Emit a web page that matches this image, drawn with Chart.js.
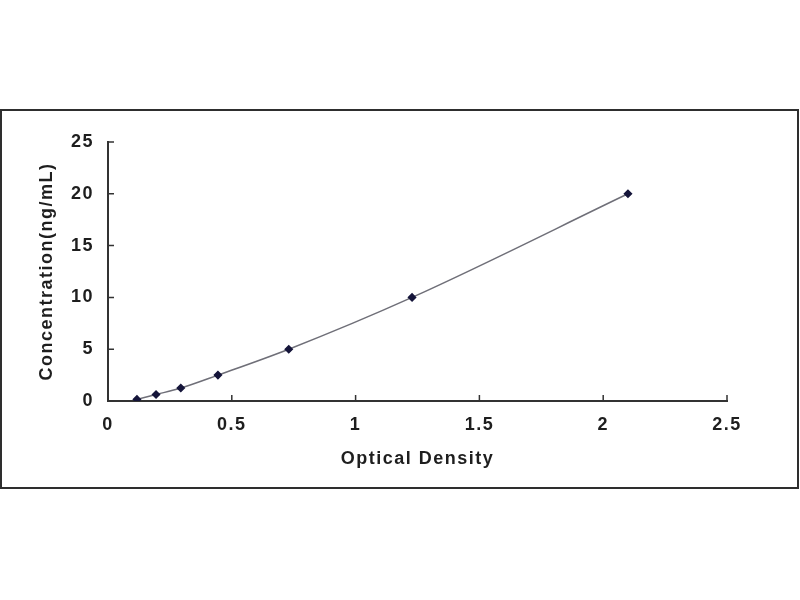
<!DOCTYPE html>
<html>
<head>
<meta charset="utf-8">
<script src="https://cdn.jsdelivr.net/npm/chart.js@4/dist/chart.umd.min.js"></script>
<style>
  html, body { margin: 0; padding: 0; background: #fff; }
  #wrap { position: relative; width: 800px; height: 600px; }
  #frame {
    position: absolute; left: 0; top: 109px;
    width: 795px; height: 376px;
    border: 2px solid #2e2e2e;
  }
  canvas { position: absolute; left: 0; top: 0; }
</style>
</head>
<body>
<div id="wrap">
  <div id="frame"></div>
  <canvas id="curve" width="800" height="600"></canvas>
</div>
<script>
// Standard curve: optical density vs concentration
const opticalDensity = [0.117, 0.194, 0.294, 0.444, 0.730, 1.228, 2.10];
const concentration = [0.156, 0.625, 1.25, 2.5, 5, 10, 20];
const xTicks = [0, 0.5, 1, 1.5, 2, 2.5];
const yTicks = [0, 5, 10, 15, 20, 25];

const textColor = '#1e1e1e';
const axisColor = '#333333';

// canvas keeps letterSpacing in its state, reset when the canvas resizes
const spacing = {
    id: 'spacing',
    beforeLayout(chart) { chart.ctx.letterSpacing = '1.5px'; },
    beforeDraw(chart) { chart.ctx.letterSpacing = '1.5px'; }
};

// small tick marks pointing into the plot
const innerTicks = {
    id: 'innerTicks',
    afterDatasetsDraw(chart) {
        const { ctx, scales: { x, y } } = chart;
        ctx.save();
        ctx.strokeStyle = axisColor;
        ctx.lineWidth = 1.5;
        ctx.beginPath();
        xTicks.forEach(v => {
            const px = x.getPixelForValue(v);
            ctx.moveTo(px, y.bottom);
            ctx.lineTo(px, y.bottom - 6);
        });
        yTicks.forEach(v => {
            const py = y.getPixelForValue(v);
            ctx.moveTo(x.left, py);
            ctx.lineTo(x.left + 6, py);
        });
        ctx.stroke();
        ctx.restore();
    }
};

const font = { family: '"Liberation Sans", Arial, sans-serif', size: 18, weight: 'bold' };

new Chart(document.getElementById('curve'), {
    type: 'scatter',
    data: {
        datasets: [{
            data: opticalDensity.map((od, i) => ({ x: od, y: concentration[i] })),
            showLine: true,
            cubicInterpolationMode: 'monotone',
            borderColor: '#6f6f78',
            borderWidth: 1.5,
            pointStyle: 'rectRot',
            pointRadius: 3.5,
            pointBackgroundColor: '#15153a',
            pointBorderColor: '#15153a'
        }]
    },
    options: {
        responsive: false,
        animation: false,
        devicePixelRatio: 1,
        layout: { padding: { left: 32, top: 142, right: 73, bottom: 126 } },
        plugins: { legend: { display: false }, tooltip: { enabled: false } },
        scales: {
            x: {
                type: 'linear',
                min: 0, max: 2.5,
                afterFit(scale) { scale.height = 73; },
                afterBuildTicks(scale) { scale.ticks = xTicks.map(v => ({ value: v })); },
                grid: { display: false, drawTicks: false },
                border: { display: true, color: axisColor, width: 2 },
                ticks: { color: textColor, font, padding: 13, maxRotation: 0, callback: v => String(v) },
                title: { display: true, text: 'Optical Density', color: textColor, font }
            },
            y: {
                type: 'linear',
                min: 0, max: 25,
                afterFit(scale) { scale.width = 76; },
                afterBuildTicks(scale) { scale.ticks = yTicks.map(v => ({ value: v })); },
                grid: { display: false, drawTicks: false },
                border: { display: true, color: axisColor, width: 2 },
                ticks: { color: textColor, font, padding: 14, callback: v => String(v) },
                title: { display: true, text: 'Concentration(ng/mL)', color: textColor, font }
            }
        }
    },
    plugins: [spacing, innerTicks]
});
</script>
</body>
</html>
